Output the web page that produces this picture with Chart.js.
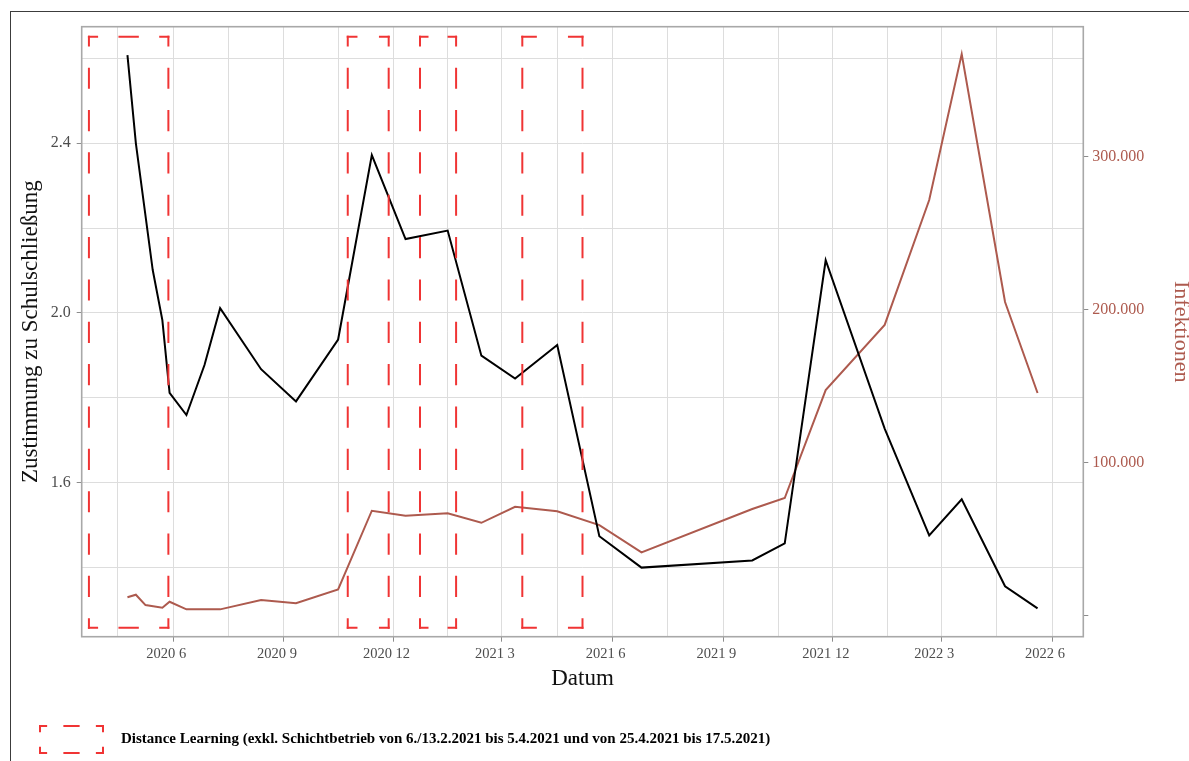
<!DOCTYPE html>
<html>
<head>
<meta charset="utf-8">
<script src="https://cdn.jsdelivr.net/npm/chart.js@4.4.1/dist/chart.umd.min.js"></script>
<style>
html, body { margin: 0; padding: 0; background: #fff; }
#wrap { position: relative; width: 1189px; height: 761px; overflow: hidden; }
#frame { position: absolute; left: 10px; top: 11px; width: 1300px; height: 900px; border-top: 1px solid #3c3c3c; border-left: 1px solid #3c3c3c; }
#chart { position: absolute; left: 0; top: 0; }
</style>
</head>
<body>
<div id="wrap">
  <div id="frame"></div>
  <canvas id="chart" width="1189" height="761"></canvas>
</div>
<script>
// Zustimmung zu Schulschließung (left axis):
const approvalDates = ['2020-04-24', '2020-05-01', '2020-05-15', '2020-05-23', '2020-05-29', '2020-06-12', '2020-06-27', '2020-07-10', '2020-08-13', '2020-09-11', '2020-10-16', '2020-11-13', '2020-12-11', '2021-01-15', '2021-02-12', '2021-03-12', '2021-04-16', '2021-05-21', '2021-06-25', '2021-09-25', '2021-10-22', '2021-11-25', '2022-01-13', '2022-02-19', '2022-03-18', '2022-04-23', '2022-05-20'];
const approvalValues = [2.608, 2.400, 2.101, 1.983, 1.811, 1.759, 1.877, 2.011, 1.867, 1.791, 1.937, 2.372, 2.174, 2.194, 1.899, 1.845, 1.924, 1.473, 1.399, 1.416, 1.456, 2.124, 1.727, 1.475, 1.560, 1.355, 1.303];

// Infektionen (right axis):
const infectionDates = ['2020-04-24', '2020-05-01', '2020-05-09', '2020-05-23', '2020-05-29', '2020-06-12', '2020-07-10', '2020-08-13', '2020-09-11', '2020-10-16', '2020-11-13', '2020-12-11', '2021-01-15', '2021-02-12', '2021-03-12', '2021-04-16', '2021-05-21', '2021-06-25', '2021-09-25', '2021-10-22', '2021-11-25', '2022-01-13', '2022-02-19', '2022-03-18', '2022-04-23', '2022-05-20'];
const infectionValues = [11600, 13300, 6500, 4800, 8700, 3700, 3700, 9800, 7700, 16800, 68300, 65000, 66600, 60400, 70900, 67900, 58900, 41000, 69400, 76600, 147300, 190000, 271800, 367400, 205000, 145400];

// Distance Learning periods:
const rectStarts = ['2020-03-23', '2020-10-24', '2020-12-23', '2021-03-18'];
const rectEnds = ['2020-05-28', '2020-11-27', '2021-01-22', '2021-05-07'];
const rectTop = 2.651;
const rectBottom = 1.257;

// Axes:
const xStart = '2020-03-17';
const xEnd = '2022-06-27';
const xTickDates = ['2020-06-01', '2020-09-01', '2020-12-01', '2021-03-01', '2021-06-01', '2021-09-01', '2021-12-01', '2022-03-01', '2022-06-01'];
const xTickLabels = ['2020 6', '2020 9', '2020 12', '2021 3', '2021 6', '2021 9', '2021 12', '2022 3', '2022 6'];
const yMin = 1.236, yMax = 2.675;
const yGridValues = [1.4, 1.6, 1.8, 2.0, 2.2, 2.4, 2.6];
const yTickValues = [1.6, 2.0, 2.4];
const yTickLabels = ['1.6', '2.0', '2.4'];
const y1Min = -14200, y1Max = 385300;
const y1TickValues = [0, 100000, 200000, 300000];
const y1TickLabels = ['', '100.000', '200.000', '300.000'];

const legendText = 'Distance Learning (exkl. Schichtbetrieb von 6./13.2.2021 bis 5.4.2021 und von 25.4.2021 bis 17.5.2021)';

const serif = "'Liberation Serif', 'DejaVu Serif', serif";
const infectColor = '#ad5a4e';
const rectColor = '#f03434';
const gridColor = '#dddddd';
const tickGrey = '#4d4d4d';

const toDay = s => Date.parse(s + 'T00:00:00Z') / 86400000;

// Dashed side with half dashes at both corners:
function dashedSide(ctx, x1, y1, x2, y2, target)
{
    const len = Math.hypot(x2 - x1, y2 - y1);
    const ux = (x2 - x1) / len, uy = (y2 - y1) / len;
    const h = ctx.lineWidth / 2;
    const full = len + 2 * h;
    const k = Math.max(0, Math.round(full / (2 * target) - 1));
    const d = full / (2 * k + 2);
    ctx.setLineDash([d, d]);
    ctx.lineDashOffset = d / 2;
    ctx.beginPath();
    ctx.moveTo(x1 - ux * h, y1 - uy * h);
    ctx.lineTo(x2 + ux * h, y2 + uy * h);
    ctx.stroke();
}

function drawDashedBox(ctx, left, top, right, bottom)
{
    ctx.save();
    ctx.strokeStyle = rectColor;
    ctx.lineWidth = 2;
    ctx.lineCap = 'butt';
    dashedSide(ctx, left, top, right, top, 21);
    dashedSide(ctx, right, top, right, bottom, 21);
    dashedSide(ctx, right, bottom, left, bottom, 21);
    dashedSide(ctx, left, bottom, left, top, 21);
    ctx.restore();
}

// Legend key as a small canvas:
const keyCanvas = document.createElement('canvas');
keyCanvas.width = 67;
keyCanvas.height = 31;
drawDashedBox(keyCanvas.getContext('2d'), 2, 2, 65, 29);

// Build x ticks (quarters + minor gridlines between):
function buildXTicks()
{
    const majors = xTickDates.map(toDay);
    const bounds = [toDay('2020-03-01')].concat(majors);
    const ticks = majors.map(v => ({value: v, isMajor: true}));
    for (let i = 0; i < bounds.length - 1; i++)
    {
        ticks.push({value: (bounds[i] + bounds[i + 1]) / 2, isMajor: false});
    }
    return ticks.sort((a, b) => a.value - b.value);
}

const majorTickColor = ctx => (ctx.tick && ctx.tick.isMajor) ? '#8c8c8c' : 'rgba(0,0,0,0)';

const panelPlugin = {
    id: 'panelPlugin',
    afterDatasetsDraw(chart)
    {
        const {ctx, chartArea: a, scales} = chart;
        ctx.save();
        ctx.beginPath();
        ctx.rect(a.left, a.top, a.right - a.left, a.bottom - a.top);
        ctx.clip();
        for (let i = 0; i < rectStarts.length; i++)
        {
            drawDashedBox(ctx,
                scales.x.getPixelForValue(toDay(rectStarts[i])),
                scales.y.getPixelForValue(rectTop),
                scales.x.getPixelForValue(toDay(rectEnds[i])),
                scales.y.getPixelForValue(rectBottom));
        }
        ctx.restore();

        ctx.save();
        ctx.strokeStyle = '#a8a8a8';
        ctx.lineWidth = 1.6;
        ctx.strokeRect(a.left, a.top, a.right - a.left, a.bottom - a.top);
        ctx.restore();
    }
};

const ctx = document.getElementById('chart').getContext('2d');
const chart = new Chart(ctx,
{
    type: 'line',
    data: {
        datasets: [
            {
                label: 'Zustimmung zu Schulschließung',
                data: approvalDates.map((d, i) => ({x: toDay(d), y: approvalValues[i]})),
                yAxisID: 'y',
                borderColor: '#000000',
                borderWidth: 2,
                pointRadius: 0,
                tension: 0,
                fill: false
            },
            {
                label: 'Infektionen',
                data: infectionDates.map((d, i) => ({x: toDay(d), y: infectionValues[i]})),
                yAxisID: 'y1',
                borderColor: infectColor,
                borderWidth: 2,
                pointRadius: 0,
                tension: 0,
                fill: false
            }
        ]
    },
    options: {
        responsive: false,
        animation: false,
        devicePixelRatio: 1,
        layout: {padding: {top: 26.7, left: 0, right: 0, bottom: 4}},
        plugins: {
            tooltip: {enabled: false},
            legend: {
                position: 'bottom',
                align: 'start',
                labels: {
                    usePointStyle: true,
                    pointStyleWidth: 84,
                    padding: 29.5,
                    color: '#111111',
                    font: {family: serif, size: 15, weight: 'bold'},
                    generateLabels: () => [{
                        text: legendText,
                        pointStyle: keyCanvas,
                        fillStyle: 'rgba(0,0,0,0)',
                        strokeStyle: 'rgba(0,0,0,0)',
                        lineWidth: 0,
                        hidden: false,
                        datasetIndex: 0
                    }]
                }
            }
        },
        scales: {
            x: {
                type: 'linear',
                min: toDay(xStart),
                max: toDay(xEnd),
                afterBuildTicks: scale => { scale.ticks = buildXTicks(); },
                afterFit: scale => { scale.height = 65.8; },
                ticks: {
                    autoSkip: false,
                    maxRotation: 0,
                    padding: 4,
                    labelOffset: -7,
                    color: tickGrey,
                    font: {family: serif, size: 14.5},
                    callback: value => {
                        const i = xTickDates.map(toDay).indexOf(value);
                        return i >= 0 ? xTickLabels[i] : '';
                    }
                },
                grid: {color: gridColor, lineWidth: 1, tickLength: 5, tickColor: majorTickColor},
                border: {display: false},
                title: {
                    display: true,
                    text: 'Datum',
                    color: '#111111',
                    font: {family: serif, size: 23, lineHeight: 1},
                    padding: {top: 0, bottom: 12}
                }
            },
            y: {
                position: 'left',
                min: yMin,
                max: yMax,
                afterBuildTicks: scale => {
                    scale.ticks = yGridValues.map(v => ({value: v, isMajor: yTickValues.includes(v)}));
                },
                afterFit: scale => { scale.width = 81.7; },
                ticks: {
                    padding: 6,
                    color: tickGrey,
                    font: {family: serif, size: 16},
                    callback: value => {
                        const i = yTickValues.indexOf(value);
                        return i >= 0 ? yTickLabels[i] : '';
                    }
                },
                grid: {color: gridColor, lineWidth: 1, tickLength: 5, tickColor: majorTickColor},
                border: {display: false},
                title: {
                    display: true,
                    text: 'Zustimmung zu Schulschließung',
                    color: '#111111',
                    font: {family: serif, size: 23, lineHeight: 1.2},
                    padding: {top: 17, bottom: 0}
                }
            },
            y1: {
                position: 'right',
                min: y1Min,
                max: y1Max,
                afterBuildTicks: scale => {
                    scale.ticks = y1TickValues.map(v => ({value: v, isMajor: true}));
                },
                afterFit: scale => { scale.width = 105.7; },
                ticks: {
                    padding: 4,
                    color: infectColor,
                    font: {family: serif, size: 16},
                    callback: value => {
                        const i = y1TickValues.indexOf(value);
                        return i >= 0 ? y1TickLabels[i] : '';
                    }
                },
                grid: {drawOnChartArea: false, tickLength: 5, tickColor: '#8c8c8c'},
                border: {display: false},
                title: {
                    display: true,
                    text: 'Infektionen',
                    color: infectColor,
                    font: {family: serif, size: 22, lineHeight: 0.72},
                    padding: {top: 0, bottom: 0}
                }
            }
        }
    },
    plugins: [panelPlugin]
});
</script>
</body>
</html>
